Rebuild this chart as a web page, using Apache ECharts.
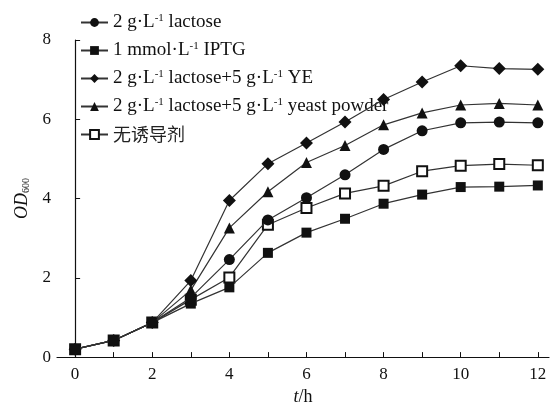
<!DOCTYPE html>
<html><head><meta charset="utf-8">
<script src="https://cdn.jsdelivr.net/npm/echarts@6/dist/echarts.min.js"></script>
<style>html,body{margin:0;padding:0;background:#fff}#c{width:555px;height:411px}</style>
</head><body><div id="c"></div>
<script>
const times = [0,1,2,3,4,5,6,7,8,9,10,11,12];
const xTickLabels = [0,2,4,6,8,10,12];
const yTickLabels = [0,2,4,6,8];
const seriesNames = ['2 g·L-1 lactose','1 mmol·L-1 IPTG','2 g·L-1 lactose+5 g·L-1 YE','2 g·L-1 lactose+5 g·L-1 yeast powder','无诱导剂'];
const lactose   = [0.2,0.42,0.87,1.5,2.46,3.46,4.02,4.6,5.24,5.71,5.91,5.93,5.91];
const iptg      = [0.2,0.42,0.87,1.35,1.76,2.63,3.14,3.49,3.87,4.1,4.29,4.3,4.33];
const ye        = [0.2,0.42,0.87,1.93,3.95,4.88,5.4,5.93,6.5,6.94,7.35,7.28,7.26];
const yeast     = [0.2,0.42,0.87,1.69,3.26,4.17,4.91,5.34,5.86,6.16,6.36,6.4,6.36];
const none      = [0.2,0.42,0.87,1.45,2.01,3.34,3.76,4.13,4.32,4.69,4.83,4.87,4.84];

const chart = echarts.init(document.getElementById('c'), null, {renderer:'canvas'});
const font = '"Liberation Serif","Times New Roman",serif';
const symbols = ['circle','rect','diamond','triangle','emptyRect'];
const sizes = [11,10,13,11,10];
const datasets = [lactose, iptg, ye, yeast, none];
const series = datasets.map((d,i)=>({
  name: seriesNames[i], type:'line',
  data: times.map((t,k)=>[t,d[k]]),
  symbol: symbols[i], symbolSize: sizes[i],
  lineStyle:{color:'#333',width:1.2},
  itemStyle:{color:'#111', borderColor:'#111', borderWidth: i===4?1.3:0},
  z: 10-i
}));
function fmt(name){
  if(name==='无诱导剂') return '{cn|无诱导剂}';
  return name.replace(/-1/g,'{sup|-1}');
}
chart.setOption({
  animation:false,
  backgroundColor:'#fff',
  grid:{left:57,right:6,top:40,bottom:45,containLabel:false},
  legend:{
    orient:'vertical', left:75, top:8, itemGap:9, itemWidth:27, itemHeight:11,
    data: seriesNames,
    formatter: fmt,
    textStyle:{fontFamily:font,fontSize:19,lineHeight:19,color:'#111',
      rich:{sup:{fontFamily:font,fontSize:11,color:'#111',verticalAlign:'top',padding:[0,0,8,0]},
            cn:{fontFamily:'"Noto Sans CJK SC"',fontSize:18,lineHeight:19,color:'#222'}}}
  },
  xAxis:{
    type:'value', min:-0.47, max:12.29,
    name:'{i|t}/h', nameLocation:'middle', nameGap:29,
    nameTextStyle:{fontFamily:font,fontSize:18,color:'#111',rich:{i:{fontFamily:font,fontStyle:'italic',fontSize:18,color:'#111'}}},
    axisLine:{lineStyle:{color:'#111',width:1.2}},
    axisTick:{inside:true,length:5,customValues:times,lineStyle:{color:'#111'}},
    axisLabel:{customValues:xTickLabels,fontFamily:font,fontSize:17,color:'#111',margin:9},
    splitLine:{show:false}
  },
  yAxis:{
    type:'value', min:0, max:8, interval:2,
    name:'{i|OD}{s|600}', nameLocation:'middle', nameGap:26, nameRotate:90,
    nameTextStyle:{fontFamily:font,fontSize:18,color:'#111',
      rich:{i:{fontFamily:font,fontStyle:'italic',fontSize:18,color:'#111'},
            s:{fontFamily:font,fontSize:10,color:'#111',verticalAlign:'bottom',padding:[8,0,0,0]}}},
    axisLine:{show:true,lineStyle:{color:'#111',width:1.2}},
    axisTick:{show:true,inside:true,length:5,lineStyle:{color:'#111'}},
    axisLabel:{customValues:yTickLabels,fontFamily:font,fontSize:17,color:'#111',margin:6},
    splitLine:{show:false}
  },
  series: series
});
</script></body></html>
